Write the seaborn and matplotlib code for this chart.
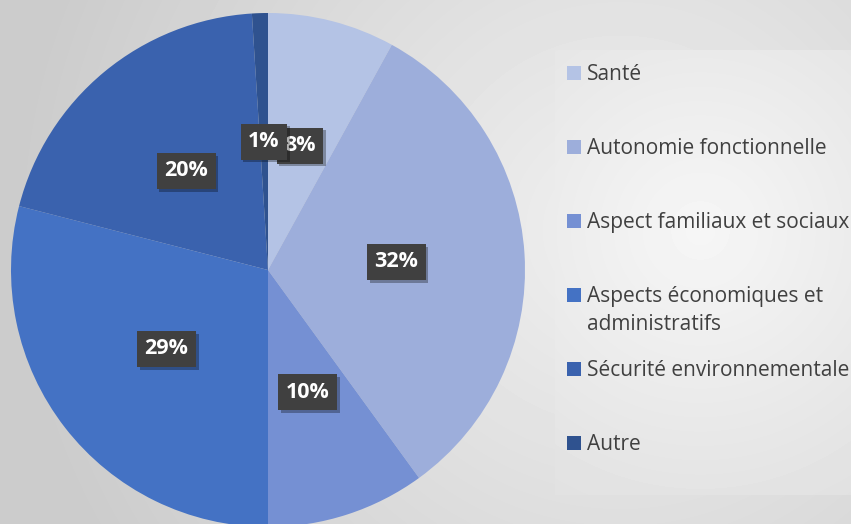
import matplotlib
matplotlib.use("Agg")
import matplotlib.pyplot as plt
import matplotlib.patheffects as pe
from matplotlib.patches import Rectangle
import numpy as np
import seaborn as sns

categories = ["Santé", "Autonomie fonctionnelle", "Aspect familiaux et sociaux",
              "Aspects économiques et administratifs", "Sécurité environnementale", "Autre"]
legend_labels = ["Santé", "Autonomie fonctionnelle", "Aspect familiaux et sociaux",
                 "Aspects économiques et\nadministratifs", "Sécurité environnementale", "Autre"]
values = [8, 32, 10, 29, 20, 1]
colors = sns.color_palette(["#B4C3E5", "#9DAEDB", "#7590D3", "#4472C4", "#3A62AE", "#2F528F"])

sns.set_style("white")
plt.rcParams["font.family"] = ["Open Sans", "DejaVu Sans"]

W, H = 851, 524
fig = plt.figure(figsize=(W / 100, H / 100), dpi=100)

# gradient background + legend panel
bg = fig.add_axes([0, 0, 1, 1])
bg.axis("off")
yy, xx = np.mgrid[0:H, 0:W]
shade = 0.94 - 0.14 * np.clip(np.hypot(xx - 620, yy - 230) / 600, 0, 1)
bg.imshow(shade, cmap="gray", vmin=0, vmax=1, extent=[0, W, H, 0], aspect="auto")
ly, lx = np.mgrid[50:495, 555:W]
lshade = 0.965 - 0.09 * np.clip(np.hypot(lx - 700, ly - 230) / 330, 0, 1)
bg.imshow(lshade, cmap="gray", vmin=0, vmax=1, extent=[555, W, 495, 50], aspect="auto")
bg.set_xlim(0, W)
bg.set_ylim(H, 0)

# pie
ax = fig.add_axes([11 / W, (H - 527) / H, 514 / W, 514 / H])
wedges, texts, autotexts = ax.pie(
    values, colors=colors, startangle=90, counterclock=False,
    autopct=lambda p: f"{p:.0f}%", pctdistance=0.5, radius=1,
    wedgeprops=dict(linewidth=0),
)
ax.set_xlim(-1, 1)
ax.set_ylim(-1, 1)
for t in autotexts:
    t.set_color("white")
    t.set_fontsize(15.5)
    t.set_fontweight("bold")
    t.set_bbox(dict(boxstyle="square,pad=0.35", fc="#404040", ec="none"))
    t.get_bbox_patch().set_path_effects(
        [pe.withSimplePatchShadow(offset=(2, -2), shadow_rgbFace="black", alpha=0.3)])

# legend
for i, lab in enumerate(legend_labels):
    y = 73 + 74 * i
    n = lab.count("\n")
    bg.add_patch(Rectangle((567, y - 7), 14, 14, color=colors[i], lw=0))
    bg.text(587, y + 7 + 28 * n, lab, va="baseline", ha="left", fontsize=15,
            color="#404040", linespacing=1.43)

fig.savefig("out.png", dpi=100)
